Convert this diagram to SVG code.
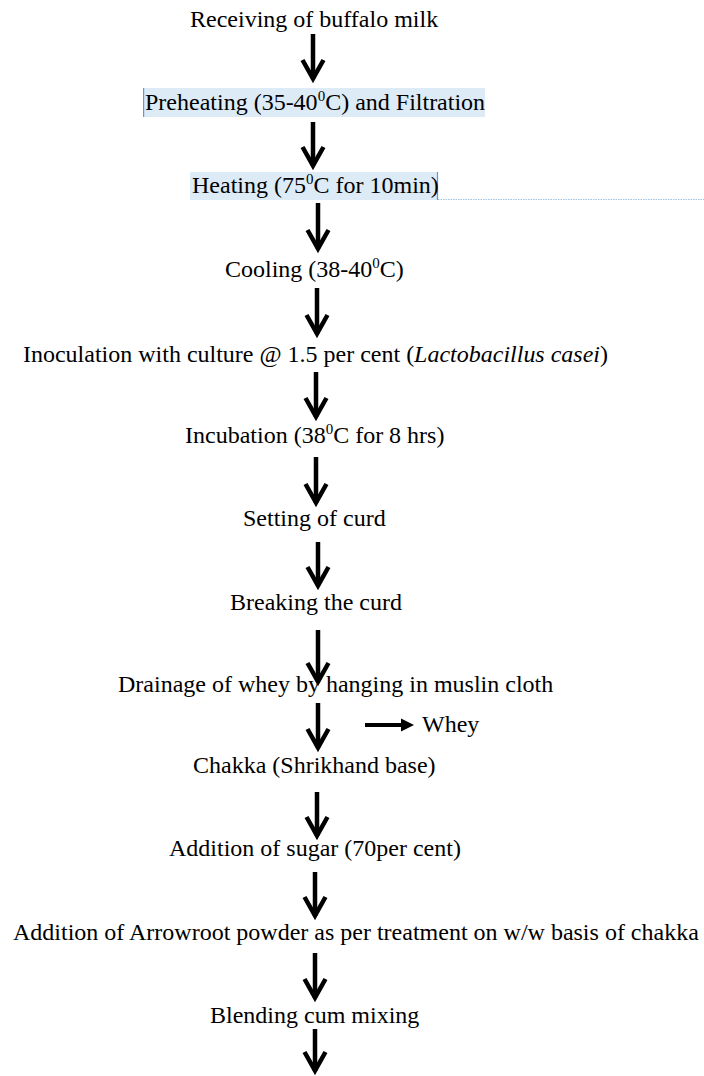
<svg xmlns="http://www.w3.org/2000/svg" width="704" height="1076" viewBox="0 0 704 1076">
<style>
text{font-family:"Liberation Serif","Times New Roman",serif;font-size:24px;fill:#000}
.sup{font-size:15px}
.hl{fill:#DDEBF7}
.cur{stroke:#5B9BD5;stroke-width:1.2}
.dot{stroke:#9DC3E6;stroke-width:1;stroke-dasharray:1.5 1}
.conn{stroke:#000;stroke-width:4.5;fill:none;marker-end:url(#vhead)}
.side{stroke:#000;stroke-width:4;fill:none;marker-end:url(#thead)}
</style>
<defs>
<marker id="vhead" markerUnits="userSpaceOnUse" viewBox="-26 -13 30 26" refX="-4" refY="0" markerWidth="30" markerHeight="26" orient="auto" overflow="visible">
<path d="M-23,-10.5 L-4.4,0 L-23,10.5" fill="none" stroke="#000" stroke-width="4.5" stroke-linejoin="miter" stroke-miterlimit="10"/>
</marker>
<marker id="thead" markerUnits="userSpaceOnUse" viewBox="-2 -8 16 16" refX="0" refY="0" markerWidth="16" markerHeight="16" orient="auto" overflow="visible">
<path d="M0,-6.5 L13,0 L0,6.5 Z" fill="#000"/>
</marker>
</defs>

<g id="connectors">
<line class="conn" x1="313" y1="34" x2="313" y2="79"/>
<line class="conn" x1="313" y1="122" x2="313" y2="166"/>
<line class="conn" x1="318" y1="203" x2="318" y2="249"/>
<line class="conn" x1="317" y1="288" x2="317" y2="334"/>
<line class="conn" x1="316" y1="372" x2="316" y2="417"/>
<line class="conn" x1="316" y1="457" x2="316" y2="503"/>
<line class="conn" x1="318" y1="542" x2="318" y2="586"/>
<line class="conn" x1="318" y1="630" x2="318" y2="682"/>
<line class="conn" x1="318" y1="703" x2="318" y2="748"/>
<line class="side" x1="365" y1="725" x2="401" y2="725"/>
<line class="conn" x1="317" y1="792" x2="317" y2="836"/>
<line class="conn" x1="315" y1="872" x2="315" y2="916"/>
<line class="conn" x1="315" y1="953" x2="315" y2="998"/>
<line class="conn" x1="315" y1="1029" x2="315" y2="1071"/>
</g>

<g id="n1"><text x="190" y="27">Receiving of buffalo milk</text></g>

<g id="n2">
<rect class="hl" x="143" y="88" width="342" height="29"/>
<line class="cur" x1="143.6" y1="88" x2="143.6" y2="117"/>
<text x="145" y="110">Preheating (35-40<tspan class="sup" dy="-9">0</tspan><tspan dy="9">C) and Filtration</tspan></text>
</g>

<g id="n3">
<rect class="hl" x="190" y="172" width="247" height="28"/>
<line class="cur" x1="437.5" y1="172" x2="437.5" y2="200"/>
<line class="dot" x1="438" y1="199.5" x2="704" y2="199.5"/>
<text x="192" y="193">Heating (75<tspan class="sup" dy="-9">0</tspan><tspan dy="9">C for 10min)</tspan></text>
</g>

<g id="n4"><text x="225" y="277">Cooling (38-40<tspan class="sup" dy="-9">0</tspan><tspan dy="9">C)</tspan></text></g>

<g id="n5"><text x="23" y="362" textLength="585" lengthAdjust="spacingAndGlyphs">Inoculation with culture @ 1.5 per cent (<tspan font-style="italic">Lactobacillus casei</tspan>)</text></g>

<g id="n6"><text x="185" y="443">Incubation (38<tspan class="sup" dy="-9">0</tspan><tspan dy="9">C for 8 hrs)</tspan></text></g>

<g id="n7"><text x="243" y="526">Setting of curd</text></g>

<g id="n8"><text x="230" y="610">Breaking the curd</text></g>

<g id="n9"><text x="118" y="692">Drainage of whey by hanging in muslin cloth</text></g>

<g id="n10"><text x="422" y="732">Whey</text></g>

<g id="n11"><text x="193" y="773">Chakka (Shrikhand base)</text></g>

<g id="n12"><text x="169" y="856">Addition of sugar (70per cent)</text></g>

<g id="n13"><text x="13" y="940">Addition of Arrowroot powder as per treatment on w/w basis of chakka</text></g>

<g id="n14"><text x="210" y="1023">Blending cum mixing</text></g>
</svg>
